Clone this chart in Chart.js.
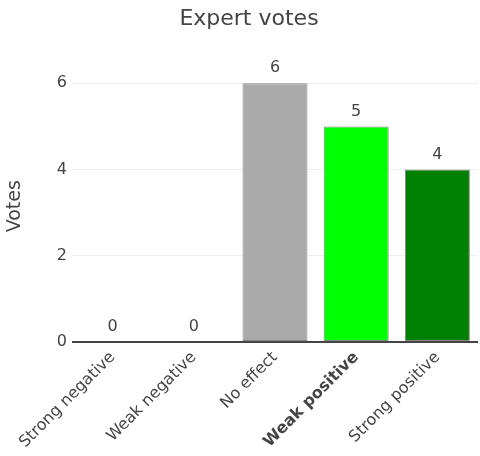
<!DOCTYPE html>
<html>
<head>
<meta charset="utf-8">
<script src="https://cdn.jsdelivr.net/npm/chart.js@4.4.0/dist/chart.umd.min.js"></script>
<style>
  html, body { margin: 0; padding: 0; background: #fff; }
  #wrap { width: 480px; height: 456px; }
</style>
</head>
<body>
<div id="wrap"><canvas id="chart" width="480" height="456"></canvas></div>
<script>
// data
const categories = ['Strong negative', 'Weak negative', 'No effect', 'Weak positive', 'Strong positive'];
const votes = [0, 0, 6, 5, 4];
const barColors = ['#aaaaaa', '#aaaaaa', '#aaaaaa', '#00ff00', '#008000'];
const boldIndex = 3; // "Weak positive" label is bold
const yTicks = [0, 2, 4, 6];

const fontFam = '"DejaVu Sans", Verdana, sans-serif';

// draws the number above each bar
const valueLabels = {
  id: 'valueLabels',
  afterDatasetsDraw(chart) {
    const c = chart.ctx;
    const meta = chart.getDatasetMeta(0);
    c.save();
    c.fillStyle = '#444';
    c.font = '16px ' + fontFam;
    c.textAlign = 'center';
    c.textBaseline = 'bottom';
    meta.data.forEach(function (bar, i) {
      c.fillText(String(votes[i]), bar.x, bar.y - 7);
    });
    c.restore();
  }
};

const ctx = document.getElementById('chart').getContext('2d');
const myChart = new Chart(ctx, {
  type: 'bar',
  data: {
    labels: categories,
    datasets: [{
      label: 'Votes',
      data: votes,
      backgroundColor: barColors,
      borderColor: '#888888',
      borderWidth: 1,
      borderSkipped: false,
      categoryPercentage: 0.8,
      barPercentage: 1.0
    }]
  },
  options: {
    responsive: false,
    animation: false,
    layout: { padding: { left: 20, right: 2, top: 4, bottom: 0 } },
    plugins: {
      legend: { display: false },
      tooltip: { enabled: false },
      title: {
        display: true,
        text: 'Expert votes',
        color: '#444',
        font: { family: fontFam, size: 22, weight: 'normal' },
        padding: { top: 2, bottom: 38 }
      }
    },
    scales: {
      x: {
        grid: { display: false, drawTicks: false },
        border: { display: false },
        ticks: {
          color: '#444',
          maxRotation: 45,
          minRotation: 45,
          padding: 6,
          autoSkip: false,
          font: function (c) {
            return { family: fontFam, size: 16, weight: c.index === boldIndex ? 'bold' : 'normal' };
          }
        },
        afterFit: function (scale) { scale.height = 114; }
      },
      y: {
        min: 0,
        max: 6.3,
        afterBuildTicks: function (scale) {
          scale.ticks = yTicks.map(function (v) { return { value: v }; });
        },
        border: { display: false },
        grid: {
          drawTicks: false,
          color: function (c) { return c.tick && c.tick.value === 0 ? '#444' : '#eeeeee'; },
          lineWidth: function (c) { return c.tick && c.tick.value === 0 ? 2 : 1; }
        },
        ticks: {
          color: '#444',
          padding: 5,
          font: { family: fontFam, size: 16 }
        },
        title: {
          display: true,
          text: 'Votes',
          color: '#444',
          font: { family: fontFam, size: 19 },
          padding: { top: -16, bottom: 0 }
        },
        afterFit: function (scale) { scale.width = 52; }
      }
    }
  },
  plugins: [valueLabels]
});
</script>
</body>
</html>
